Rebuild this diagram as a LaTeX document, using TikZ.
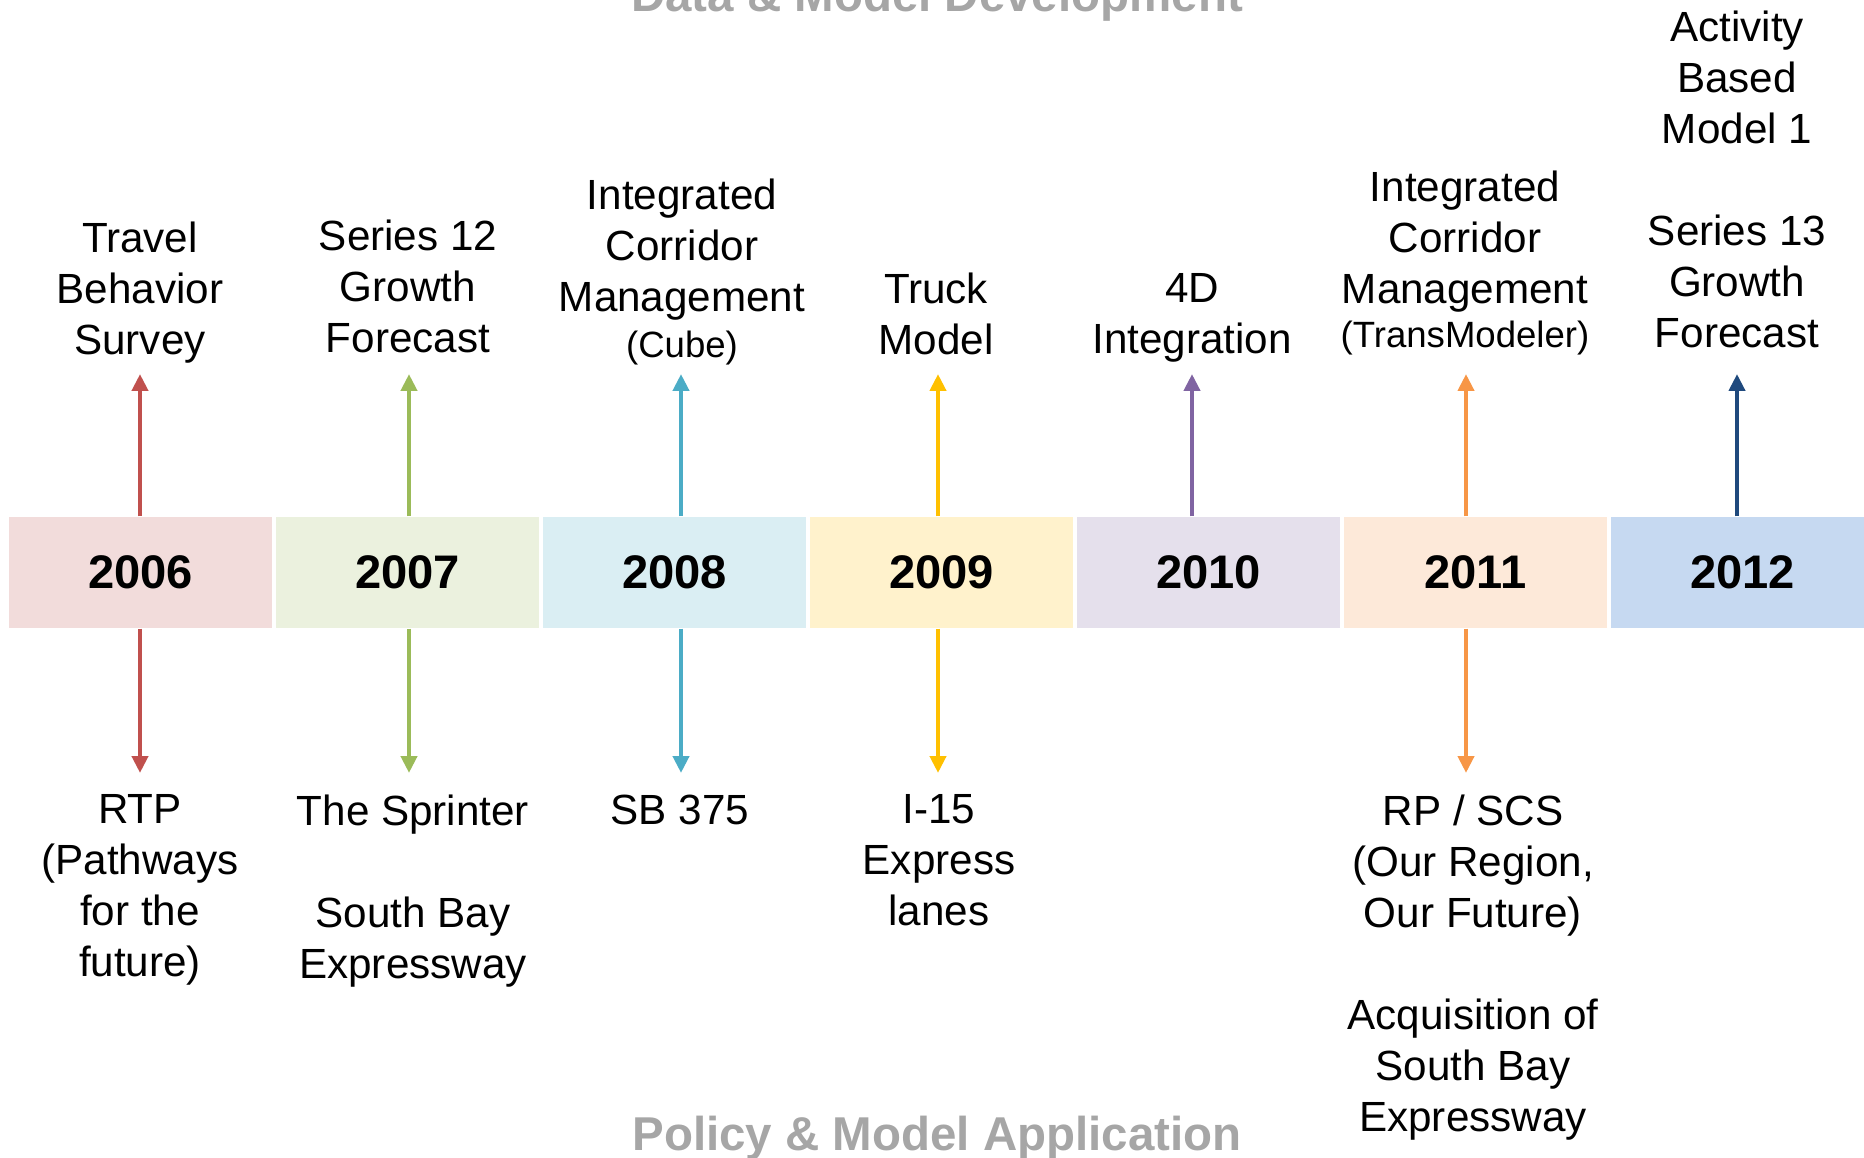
\documentclass[tikz,border=0pt]{standalone}
\usepackage{fontspec}
\setmainfont{Liberation Sans}
\usetikzlibrary{arrows.meta}
\definecolor{line06}{HTML}{C0504D}\definecolor{fill06}{HTML}{F2DCDB}
\definecolor{line07}{HTML}{9BBB59}\definecolor{fill07}{HTML}{EBF1DE}
\definecolor{line08}{HTML}{4BACC6}\definecolor{fill08}{HTML}{DAEEF3}
\definecolor{line09}{HTML}{FFC000}\definecolor{fill09}{HTML}{FFF2CC}
\definecolor{line10}{HTML}{8064A2}\definecolor{fill10}{HTML}{E5E0EC}
\definecolor{line11}{HTML}{F79646}\definecolor{fill11}{HTML}{FDE9D9}
\definecolor{line12}{HTML}{1F497D}\definecolor{fill12}{HTML}{C6D9F1}
\definecolor{headgray}{HTML}{A6A6A6}
\newcommand{\toolname}[1]{{\fontsize{10.4}{14.5}\selectfont #1}}
\tikzset{
  yearbox/.style={minimum width=2.62cm, minimum height=1.11cm, inner sep=0pt,
    font=\fontsize{13.4}{16}\selectfont\bfseries},
  toplabel/.style={anchor=south, align=center, inner sep=0pt, text depth=0pt,
    font=\fontsize{12}{14.5}\selectfont},
  botlabel/.style={anchor=north, align=center, inner sep=0pt,
    font=\fontsize{12}{14.5}\selectfont},
  heading/.style={anchor=base, inner sep=0pt, text=headgray,
    font=\fontsize{13.5}{16}\selectfont\bfseries},
  link/.style={line width=1.3pt, -{Triangle[length=4.8pt,width=4.5pt]}},
}
\begin{document}
\begin{tikzpicture}[x=0.01cm, y=-0.01cm]
  \useasboundingbox (0,0) rectangle (1864,1158);
  \clip (0,0) rectangle (1864,1158);
  % Headings
  \node[heading] (dev) at (937,12) {Data \& Model Development};
  \node[heading] (app) at (937,1150) {Policy \& Model Application};
  % Year boxes
  \foreach \yr/\cx/\c in {2006/140.5/06,2007/407.5/07,2008/674.5/08,2009/941.5/09,
      2010/1208.5/10,2011/1475.5/11,2012/1742.5/12} {
    \node[yearbox, fill=fill\c] (y\yr) at (\cx,572.5) {\yr};
  }
  % Arrow tips
  \foreach \yr/\ax in {2006/140,2007/409,2008/681,2009/938,2010/1192,2011/1466,2012/1737} {
    \coordinate (up\yr) at (\ax,374);
    \coordinate (dn\yr) at (\ax,773);
  }
  % Data & model development (above)
  \node[toplabel] (top2006) at (140,355) {Travel\\Behavior\\Survey};
  \node[toplabel] (top2007) at (408,353) {Series 12\\Growth\\Forecast};
  \node[toplabel] (top2008) at (682,358) {Integrated\\Corridor\\Management\\[-1.5pt]\toolname{(Cube)}};
  \node[toplabel] (top2009) at (936,355) {Truck\\Model};
  \node[toplabel] (top2010) at (1192,354) {4D\\Integration};
  \node[toplabel] (top2011) at (1465,348) {Integrated\\Corridor\\Management\\[-2pt]\toolname{(TransModeler)}};
  \node[toplabel] (top2012) at (1737,348) {Activity\\Based\\Model 1\\ \\Series 13\\Growth\\Forecast};
  % Policy & model application (below)
  \node[botlabel] (bot2006) at (140,794) {RTP\\(Pathways\\for the\\future)};
  \node[botlabel] (bot2007) at (413,794) {The Sprinter\\ \\South Bay\\Expressway};
  \node[botlabel] (bot2008) at (680,794) {SB 375};
  \node[botlabel] (bot2009) at (939,794) {I-15\\Express\\lanes};
  \node[botlabel] (bot2011) at (1473,794) {RP / SCS\\(Our Region,\\Our Future)\\ \\Acquisition of\\South Bay\\Expressway};
  % Arrows
  \foreach \yr/\c in {2006/06,2007/07,2008/08,2009/09,2010/10,2011/11,2012/12}
    \draw[link, line\c] (y\yr.north -| up\yr) -- (up\yr);
  \foreach \yr/\c in {2006/06,2007/07,2008/08,2009/09,2011/11}
    \draw[link, line\c] (y\yr.south -| dn\yr) -- (dn\yr);
\end{tikzpicture}
\end{document}
